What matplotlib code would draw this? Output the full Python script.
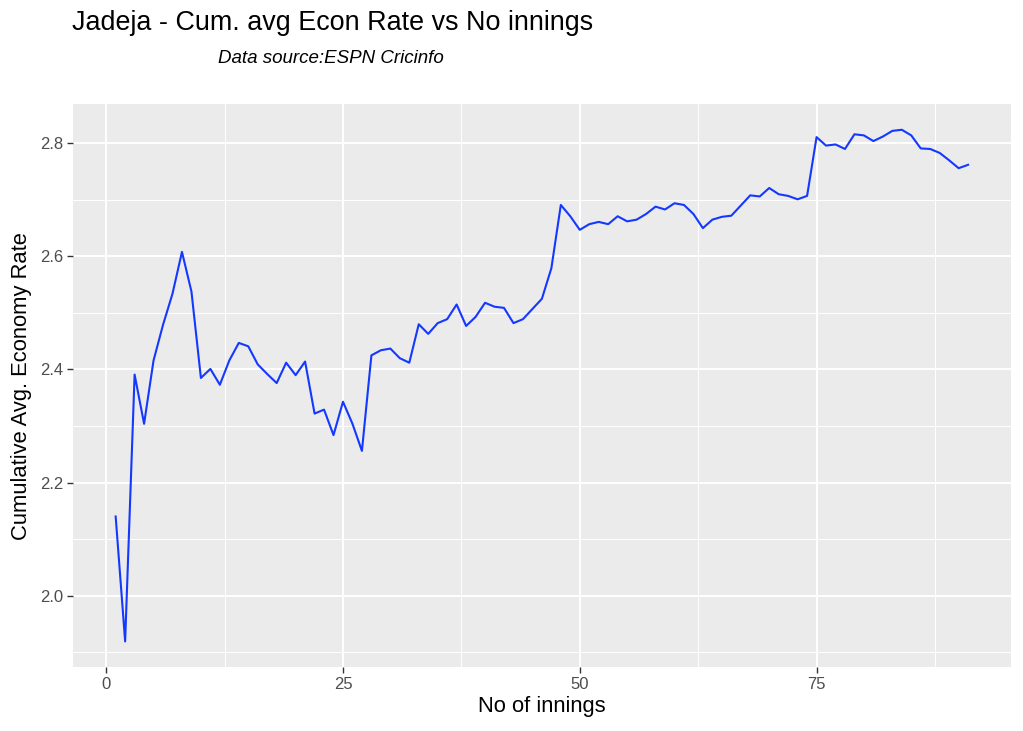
import numpy as np
import matplotlib.pyplot as plt
from matplotlib.ticker import MultipleLocator

plt.rcParams['font.family'] = ['Liberation Sans', 'DejaVu Sans']

# Cumulative average economy rate, innings 1..91
econ = [
    2.140, 1.919, 2.391, 2.304, 2.416, 2.479, 2.534, 2.608, 2.538, 2.385,
    2.401, 2.373, 2.416, 2.447, 2.441, 2.409, 2.392, 2.376, 2.412, 2.390,
    2.414, 2.322, 2.329, 2.284, 2.343, 2.304, 2.256, 2.425, 2.434, 2.437,
    2.420, 2.412, 2.480, 2.463, 2.482, 2.489, 2.515, 2.477, 2.493, 2.518,
    2.511, 2.509, 2.482, 2.489, 2.507, 2.525, 2.579, 2.691, 2.671, 2.647,
    2.657, 2.661, 2.657, 2.671, 2.662, 2.665, 2.675, 2.688, 2.683, 2.694,
    2.691, 2.675, 2.650, 2.665, 2.670, 2.672, 2.690, 2.708, 2.706, 2.721,
    2.710, 2.707, 2.701, 2.707, 2.811, 2.796, 2.798, 2.790, 2.816, 2.814,
    2.804, 2.812, 2.822, 2.824, 2.814, 2.791, 2.790, 2.783, 2.770, 2.756,
    2.762,
]
innings = np.arange(1, len(econ) + 1)

fig = plt.figure(figsize=(10.23, 7.31), dpi=100)
ax = fig.add_axes([0.0714, 0.0875, 0.9166, 0.770])

ax.set_facecolor('#EBEBEB')
for s in ax.spines.values():
    s.set_visible(False)

ax.plot(innings, econ, color='#1438FF', linewidth=1.5, zorder=3)

# ggplot-style expansion (5%)
xr = innings.max() - innings.min()
ax.set_xlim(innings.min() - 0.05 * xr, innings.max() + 0.05 * xr)
yr = max(econ) - min(econ)
ax.set_ylim(min(econ) - 0.05 * yr, max(econ) + 0.05 * yr)

ax.xaxis.set_major_locator(MultipleLocator(25))
ax.xaxis.set_minor_locator(MultipleLocator(12.5))
ax.yaxis.set_major_locator(MultipleLocator(0.2))
ax.yaxis.set_minor_locator(MultipleLocator(0.1))
ax.yaxis.set_major_formatter(plt.FuncFormatter(lambda v, p: f'{v:.1f}'))

ax.grid(which='major', color='white', linewidth=1.4, zorder=0)
ax.grid(which='minor', color='white', linewidth=0.7, zorder=0)
ax.set_axisbelow(True)

ax.tick_params(which='major', length=4, width=1, color='#333333',
               labelcolor='#4D4D4D', labelsize=12, pad=3)
ax.tick_params(which='minor', length=0)

ax.set_xlabel('No of innings', fontsize=15.8, labelpad=3)
ax.set_ylabel('Cumulative Avg. Economy Rate', fontsize=15.8, labelpad=6)

fig.text(0.0704, 0.968, 'Jadeja - Cum. avg Econ Rate vs No innings',
         fontsize=19.4, ha='left', va='center')
fig.text(0.213, 0.920, 'Data source:ESPN Cricinfo', fontsize=13.5,
         style='italic', ha='left', va='center')

fig.savefig('out.png', dpi=100)
